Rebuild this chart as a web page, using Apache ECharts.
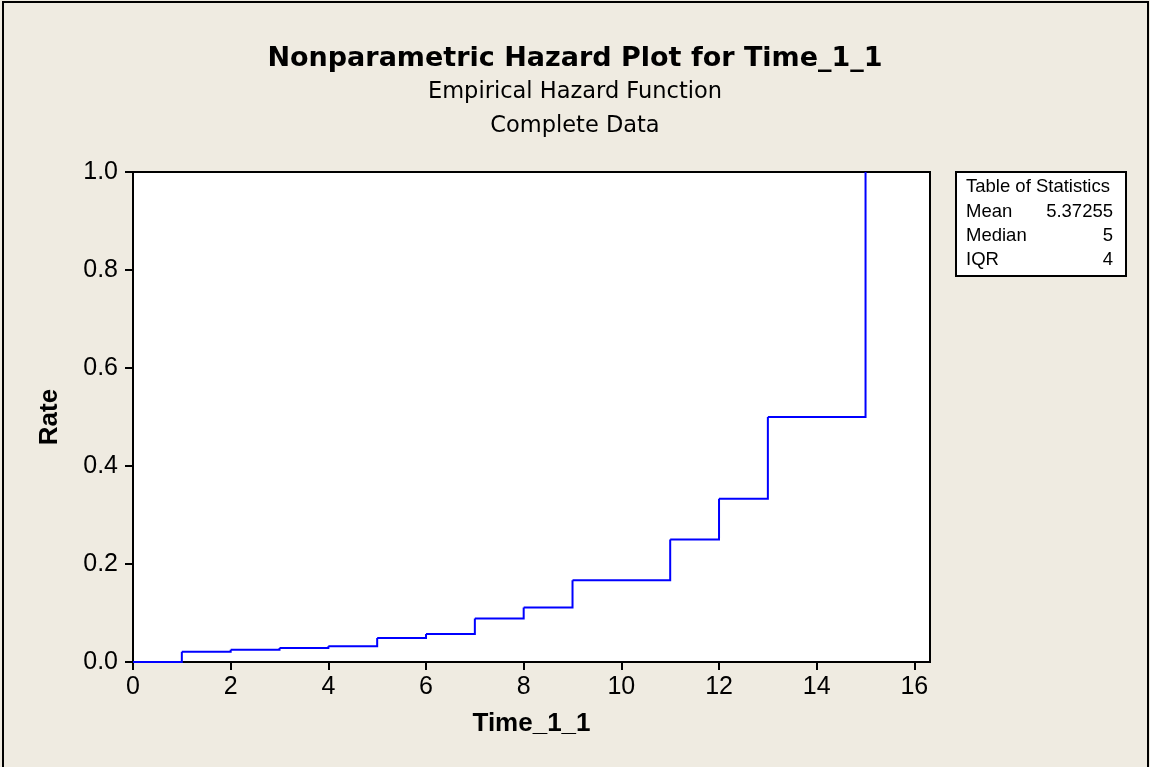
<!DOCTYPE html>
<html><head><meta charset="utf-8">
<script src="https://cdn.jsdelivr.net/npm/echarts@6/dist/echarts.min.js"></script>
<style>html,body{margin:0;padding:0;background:#EFEBE1;}#c{width:1150px;height:767px;}</style>
</head><body><div id="c"></div>
<script>
const times = [0, 1, 2, 3, 4, 5, 6, 7, 8, 9, 11, 12, 13, 15];
const hazard = [0, 0.0208, 0.025, 0.0286, 0.0323, 0.0488, 0.0571, 0.0889, 0.1111, 0.1667, 0.25, 0.3333, 0.5, 1.0];
const xTicks = [0, 2, 4, 6, 8, 10, 12, 14, 16];
const statNames = ['Mean', 'Median', 'IQR'];
const statValues = ['5.37255', '5', '4'];

const FONT = '"Liberation Sans", Arial, sans-serif';
const TFONT = '"DejaVu Sans", Verdana, sans-serif';
const chart = echarts.init(document.getElementById('c'));

// each step: horizontal at hazard[i] from times[i] to times[i+1], then vertical to hazard[i+1]
const steps = [];
for (let i = 0; i < times.length - 1; i++) {
  steps.push([times[i], hazard[i], times[i + 1], hazard[i + 1]]);
}

const gfx = [
  { type: 'rect', shape: { x: 3, y: 2, width: 1145, height: 800 }, style: { fill: 'none', stroke: '#000', lineWidth: 2 }, silent: true },
  { type: 'rect', shape: { x: 956, y: 172, width: 170, height: 104 }, style: { fill: '#fff', stroke: '#000', lineWidth: 2 } },
  { type: 'text', left: 966, top: 177, style: { text: 'Table of Statistics', font: '18.5px ' + FONT, fill: '#000' } }
];
statNames.forEach((n, i) => {
  gfx.push({ type: 'text', left: 966, top: 202 + i * 24, style: { text: n, font: '18.5px ' + FONT, fill: '#000' } });
  gfx.push({ type: 'text', right: 1150 - 1113, top: 202 + i * 24, style: { text: statValues[i], font: '18.5px ' + FONT, fill: '#000', align: 'right' } });
});

chart.setOption({
  backgroundColor: '#EFEBE1',
  animation: false,
  title: [
    { text: 'Nonparametric Hazard Plot for Time_1_1', left: 'center', top: 40, textStyle: { fontFamily: TFONT, fontWeight: 'bold', fontSize: 27, color: '#000' } },
    { text: 'Empirical Hazard Function', left: 'center', top: 76, textStyle: { fontFamily: TFONT, fontWeight: 'normal', fontSize: 22.5, color: '#000' } },
    { text: 'Complete Data', left: 'center', top: 110, textStyle: { fontFamily: TFONT, fontWeight: 'normal', fontSize: 22.5, color: '#000' } }
  ],
  grid: { left: 133, top: 172, right: 220, bottom: 105, show: true, backgroundColor: '#fff', borderColor: '#000', borderWidth: 2 },
  xAxis: {
    type: 'value', min: 0, max: 16.32, interval: 2,
    name: 'Time_1_1', nameLocation: 'middle', nameGap: 49,
    nameTextStyle: { fontFamily: FONT, fontWeight: 'bold', fontSize: 26, color: '#000' },
    axisLine: { show: true, lineStyle: { color: '#000', width: 2 } },
    axisTick: { show: true, inside: false, length: 8, lineStyle: { color: '#000', width: 2 }, customValues: xTicks },
    axisLabel: { fontFamily: FONT, fontSize: 25, color: '#000', margin: 13, customValues: xTicks },
    splitLine: { show: false }
  },
  yAxis: {
    type: 'value', min: 0, max: 1, interval: 0.2,
    name: 'Rate', nameLocation: 'middle', nameGap: 70, nameRotate: 90,
    nameTextStyle: { fontFamily: FONT, fontWeight: 'bold', fontSize: 26, color: '#000' },
    axisLine: { show: true, lineStyle: { color: '#000', width: 2 } },
    axisTick: { show: true, inside: false, length: 8, lineStyle: { color: '#000', width: 2 } },
    axisLabel: { fontFamily: FONT, fontSize: 25, color: '#000', margin: 15, formatter: v => v.toFixed(1) },
    splitLine: { show: false }
  },
  series: [{
    type: 'custom',
    data: steps,
    encode: { x: [0, 2], y: [1, 3] },
    clip: false,
    renderItem: function (params, api) {
      const p0 = api.coord([api.value(0), api.value(1)]);
      const p1 = api.coord([api.value(2), api.value(1)]);
      const p2 = api.coord([api.value(2), api.value(3)]);
      return {
        type: 'polyline',
        shape: { points: [p0, p1, p2] },
        style: { stroke: '#0000FF', lineWidth: 2, fill: null, lineJoin: 'miter' }
      };
    }
  }],
  graphic: gfx
});
</script></body></html>
